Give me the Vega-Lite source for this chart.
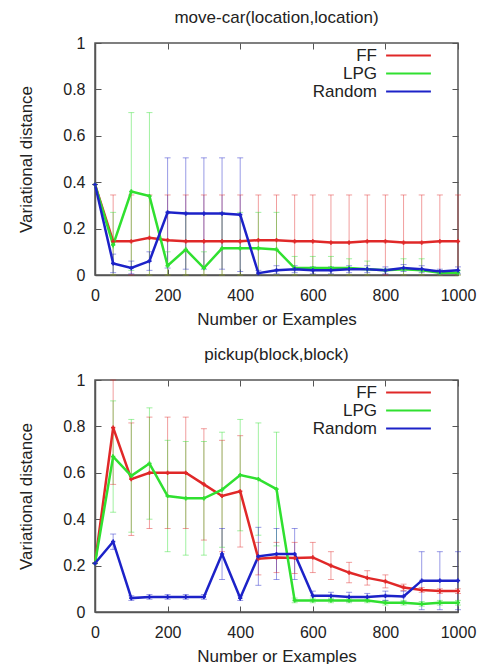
{
  "$schema": "https://vega.github.io/schema/vega-lite/v6.json",
  "padding": {"left": 17, "top": 8, "right": 5, "bottom": 5},
  "spacing": 17,
  "datasets": {
    "pts": [
      {"p":"A","s":"FF","x":0,"y":0.39,"lo":0.39,"hi":0.39},
      {"p":"A","s":"FF","x":50,"y":0.145,"lo":0,"hi":0.345},
      {"p":"A","s":"FF","x":100,"y":0.145,"lo":0,"hi":0.345},
      {"p":"A","s":"FF","x":150,"y":0.16,"lo":0,"hi":0.345},
      {"p":"A","s":"FF","x":200,"y":0.15,"lo":0,"hi":0.345},
      {"p":"A","s":"FF","x":250,"y":0.145,"lo":0,"hi":0.345},
      {"p":"A","s":"FF","x":300,"y":0.145,"lo":0,"hi":0.345},
      {"p":"A","s":"FF","x":350,"y":0.145,"lo":0,"hi":0.345},
      {"p":"A","s":"FF","x":400,"y":0.145,"lo":0,"hi":0.345},
      {"p":"A","s":"FF","x":450,"y":0.15,"lo":0,"hi":0.345},
      {"p":"A","s":"FF","x":500,"y":0.15,"lo":0,"hi":0.345},
      {"p":"A","s":"FF","x":550,"y":0.145,"lo":0,"hi":0.345},
      {"p":"A","s":"FF","x":600,"y":0.145,"lo":0,"hi":0.345},
      {"p":"A","s":"FF","x":650,"y":0.14,"lo":0,"hi":0.345},
      {"p":"A","s":"FF","x":700,"y":0.14,"lo":0,"hi":0.345},
      {"p":"A","s":"FF","x":750,"y":0.145,"lo":0,"hi":0.345},
      {"p":"A","s":"FF","x":800,"y":0.145,"lo":0,"hi":0.345},
      {"p":"A","s":"FF","x":850,"y":0.14,"lo":0,"hi":0.345},
      {"p":"A","s":"FF","x":900,"y":0.14,"lo":0,"hi":0.345},
      {"p":"A","s":"FF","x":950,"y":0.145,"lo":0,"hi":0.345},
      {"p":"A","s":"FF","x":1000,"y":0.145,"lo":0,"hi":0.345},
      {"p":"A","s":"LPG","x":0,"y":0.39,"lo":0.39,"hi":0.39},
      {"p":"A","s":"LPG","x":50,"y":0.13,"lo":0,"hi":0.27},
      {"p":"A","s":"LPG","x":100,"y":0.36,"lo":0.02,"hi":0.70},
      {"p":"A","s":"LPG","x":150,"y":0.34,"lo":0,"hi":0.70},
      {"p":"A","s":"LPG","x":200,"y":0.04,"lo":0,"hi":0.10},
      {"p":"A","s":"LPG","x":250,"y":0.11,"lo":0,"hi":0.27},
      {"p":"A","s":"LPG","x":300,"y":0.03,"lo":0,"hi":0.10},
      {"p":"A","s":"LPG","x":350,"y":0.115,"lo":0,"hi":0.27},
      {"p":"A","s":"LPG","x":400,"y":0.115,"lo":0,"hi":0.27},
      {"p":"A","s":"LPG","x":450,"y":0.115,"lo":0,"hi":0.27},
      {"p":"A","s":"LPG","x":500,"y":0.11,"lo":0,"hi":0.27},
      {"p":"A","s":"LPG","x":550,"y":0.03,"lo":0,"hi":0.08},
      {"p":"A","s":"LPG","x":600,"y":0.03,"lo":0,"hi":0.08},
      {"p":"A","s":"LPG","x":650,"y":0.03,"lo":0,"hi":0.08},
      {"p":"A","s":"LPG","x":700,"y":0.03,"lo":0,"hi":0.07},
      {"p":"A","s":"LPG","x":750,"y":0.025,"lo":0,"hi":0.06},
      {"p":"A","s":"LPG","x":800,"y":0.02,"lo":0.02,"hi":0.02},
      {"p":"A","s":"LPG","x":850,"y":0.025,"lo":0,"hi":0.07},
      {"p":"A","s":"LPG","x":900,"y":0.02,"lo":0,"hi":0.07},
      {"p":"A","s":"LPG","x":950,"y":0.01,"lo":0,"hi":0.02},
      {"p":"A","s":"LPG","x":1000,"y":0.01,"lo":0,"hi":0.02},
      {"p":"A","s":"Random","x":0,"y":0.39,"lo":0.39,"hi":0.39},
      {"p":"A","s":"Random","x":50,"y":0.05,"lo":0.01,"hi":0.09},
      {"p":"A","s":"Random","x":100,"y":0.03,"lo":0.005,"hi":0.06},
      {"p":"A","s":"Random","x":150,"y":0.06,"lo":0.02,"hi":0.10},
      {"p":"A","s":"Random","x":200,"y":0.27,"lo":0.03,"hi":0.505},
      {"p":"A","s":"Random","x":250,"y":0.265,"lo":0.025,"hi":0.505},
      {"p":"A","s":"Random","x":300,"y":0.265,"lo":0.025,"hi":0.505},
      {"p":"A","s":"Random","x":350,"y":0.265,"lo":0.025,"hi":0.505},
      {"p":"A","s":"Random","x":400,"y":0.26,"lo":0.015,"hi":0.505},
      {"p":"A","s":"Random","x":450,"y":0.008,"lo":0,"hi":0.02},
      {"p":"A","s":"Random","x":500,"y":0.02,"lo":0.005,"hi":0.04},
      {"p":"A","s":"Random","x":550,"y":0.025,"lo":0.01,"hi":0.04},
      {"p":"A","s":"Random","x":600,"y":0.02,"lo":0.005,"hi":0.035},
      {"p":"A","s":"Random","x":650,"y":0.02,"lo":0.005,"hi":0.035},
      {"p":"A","s":"Random","x":700,"y":0.025,"lo":0.01,"hi":0.04},
      {"p":"A","s":"Random","x":750,"y":0.025,"lo":0.01,"hi":0.04},
      {"p":"A","s":"Random","x":800,"y":0.02,"lo":0.005,"hi":0.035},
      {"p":"A","s":"Random","x":850,"y":0.03,"lo":0.015,"hi":0.045},
      {"p":"A","s":"Random","x":900,"y":0.025,"lo":0.01,"hi":0.04},
      {"p":"A","s":"Random","x":950,"y":0.015,"lo":0.005,"hi":0.025},
      {"p":"A","s":"Random","x":1000,"y":0.02,"lo":0.005,"hi":0.035},
      {"p":"B","s":"FF","x":0,"y":0.21,"lo":0.21,"hi":0.21},
      {"p":"B","s":"FF","x":50,"y":0.795,"lo":0.55,"hi":1.0},
      {"p":"B","s":"FF","x":100,"y":0.573,"lo":0.33,"hi":0.815},
      {"p":"B","s":"FF","x":150,"y":0.60,"lo":0.36,"hi":0.84},
      {"p":"B","s":"FF","x":200,"y":0.60,"lo":0.36,"hi":0.84},
      {"p":"B","s":"FF","x":250,"y":0.60,"lo":0.36,"hi":0.84},
      {"p":"B","s":"FF","x":300,"y":0.55,"lo":0.31,"hi":0.79},
      {"p":"B","s":"FF","x":350,"y":0.50,"lo":0.26,"hi":0.74},
      {"p":"B","s":"FF","x":400,"y":0.52,"lo":0.28,"hi":0.76},
      {"p":"B","s":"FF","x":450,"y":0.23,"lo":0.16,"hi":0.30},
      {"p":"B","s":"FF","x":500,"y":0.235,"lo":0.17,"hi":0.30},
      {"p":"B","s":"FF","x":550,"y":0.233,"lo":0.166,"hi":0.30},
      {"p":"B","s":"FF","x":600,"y":0.235,"lo":0.17,"hi":0.30},
      {"p":"B","s":"FF","x":650,"y":0.20,"lo":0.14,"hi":0.26},
      {"p":"B","s":"FF","x":700,"y":0.17,"lo":0.126,"hi":0.214},
      {"p":"B","s":"FF","x":750,"y":0.147,"lo":0.116,"hi":0.178},
      {"p":"B","s":"FF","x":800,"y":0.132,"lo":0.104,"hi":0.16},
      {"p":"B","s":"FF","x":850,"y":0.106,"lo":0.092,"hi":0.12},
      {"p":"B","s":"FF","x":900,"y":0.095,"lo":0.085,"hi":0.105},
      {"p":"B","s":"FF","x":950,"y":0.09,"lo":0.08,"hi":0.10},
      {"p":"B","s":"FF","x":1000,"y":0.09,"lo":0.08,"hi":0.10},
      {"p":"B","s":"LPG","x":0,"y":0.21,"lo":0.21,"hi":0.21},
      {"p":"B","s":"LPG","x":50,"y":0.67,"lo":0.43,"hi":0.91},
      {"p":"B","s":"LPG","x":100,"y":0.587,"lo":0.344,"hi":0.83},
      {"p":"B","s":"LPG","x":150,"y":0.64,"lo":0.40,"hi":0.88},
      {"p":"B","s":"LPG","x":200,"y":0.50,"lo":0.26,"hi":0.74},
      {"p":"B","s":"LPG","x":250,"y":0.49,"lo":0.245,"hi":0.735},
      {"p":"B","s":"LPG","x":300,"y":0.49,"lo":0.245,"hi":0.735},
      {"p":"B","s":"LPG","x":350,"y":0.527,"lo":0.279,"hi":0.775},
      {"p":"B","s":"LPG","x":400,"y":0.59,"lo":0.35,"hi":0.83},
      {"p":"B","s":"LPG","x":450,"y":0.573,"lo":0.331,"hi":0.815},
      {"p":"B","s":"LPG","x":500,"y":0.53,"lo":0.285,"hi":0.775},
      {"p":"B","s":"LPG","x":550,"y":0.05,"lo":0.04,"hi":0.06},
      {"p":"B","s":"LPG","x":600,"y":0.05,"lo":0.04,"hi":0.06},
      {"p":"B","s":"LPG","x":650,"y":0.05,"lo":0.04,"hi":0.06},
      {"p":"B","s":"LPG","x":700,"y":0.05,"lo":0.04,"hi":0.06},
      {"p":"B","s":"LPG","x":750,"y":0.05,"lo":0.04,"hi":0.06},
      {"p":"B","s":"LPG","x":800,"y":0.04,"lo":0.03,"hi":0.05},
      {"p":"B","s":"LPG","x":850,"y":0.04,"lo":0.03,"hi":0.05},
      {"p":"B","s":"LPG","x":900,"y":0.035,"lo":0.025,"hi":0.045},
      {"p":"B","s":"LPG","x":950,"y":0.04,"lo":0.03,"hi":0.05},
      {"p":"B","s":"LPG","x":1000,"y":0.04,"lo":0.03,"hi":0.05},
      {"p":"B","s":"Random","x":0,"y":0.21,"lo":0.21,"hi":0.21},
      {"p":"B","s":"Random","x":50,"y":0.303,"lo":0.27,"hi":0.336},
      {"p":"B","s":"Random","x":100,"y":0.06,"lo":0.05,"hi":0.07},
      {"p":"B","s":"Random","x":150,"y":0.065,"lo":0.055,"hi":0.075},
      {"p":"B","s":"Random","x":200,"y":0.065,"lo":0.055,"hi":0.075},
      {"p":"B","s":"Random","x":250,"y":0.065,"lo":0.055,"hi":0.075},
      {"p":"B","s":"Random","x":300,"y":0.065,"lo":0.055,"hi":0.075},
      {"p":"B","s":"Random","x":350,"y":0.25,"lo":0.14,"hi":0.36},
      {"p":"B","s":"Random","x":400,"y":0.06,"lo":0.05,"hi":0.07},
      {"p":"B","s":"Random","x":450,"y":0.24,"lo":0.115,"hi":0.365},
      {"p":"B","s":"Random","x":500,"y":0.25,"lo":0.14,"hi":0.36},
      {"p":"B","s":"Random","x":550,"y":0.25,"lo":0.14,"hi":0.36},
      {"p":"B","s":"Random","x":600,"y":0.07,"lo":0.05,"hi":0.09},
      {"p":"B","s":"Random","x":650,"y":0.07,"lo":0.055,"hi":0.085},
      {"p":"B","s":"Random","x":700,"y":0.065,"lo":0.045,"hi":0.085},
      {"p":"B","s":"Random","x":750,"y":0.065,"lo":0.05,"hi":0.08},
      {"p":"B","s":"Random","x":800,"y":0.07,"lo":0.05,"hi":0.09},
      {"p":"B","s":"Random","x":850,"y":0.067,"lo":0.044,"hi":0.09},
      {"p":"B","s":"Random","x":900,"y":0.135,"lo":0.01,"hi":0.26},
      {"p":"B","s":"Random","x":950,"y":0.135,"lo":0.01,"hi":0.26},
      {"p":"B","s":"Random","x":1000,"y":0.135,"lo":0.01,"hi":0.26}
    ]
  },
  "data": {"name": "pts"},
  "resolve": {"scale": {"color": "independent"}, "legend": {"color": "independent"}},
  "vconcat": [
    {
      "title": "move-car(location,location)",
      "width": 363, "height": 232,
      "transform": [{"filter": "datum.p == 'A'"}],
      "encoding": {
        "x": {"field": "x", "type": "quantitative", "scale": {"domain": [0, 1000], "nice": false}, "axis": {"values": [0, 200, 400, 600, 800, 1000], "format": "d", "title": "Number or Examples"}},
        "color": {"field": "s", "type": "nominal", "title": null, "scale": {"domain": ["FF", "LPG", "Random"], "range": ["#e02828", "#30e030", "#1c22c8"]}}
      },
      "resolve": {"axis": {"x": "independent", "y": "independent"}},
      "layer": [
        {
          "layer": [
            {"mark": {"type": "rule", "strokeWidth": 1, "opacity": 0.45},
             "encoding": {"y": {"field": "lo", "type": "quantitative", "scale": {"domain": [0, 1], "nice": false}, "axis": {"values": [0, 0.2, 0.4, 0.6, 0.8, 1], "format": "~g"}, "title": "Variational distance"}, "y2": {"field": "hi"}}},
            {"mark": {"type": "tick", "orient": "horizontal", "size": 6, "thickness": 1, "opacity": 0.45},
             "encoding": {"y": {"field": "hi", "type": "quantitative", "title": "Variational distance"}}},
            {"mark": {"type": "tick", "orient": "horizontal", "size": 6, "thickness": 1, "opacity": 0.45},
             "encoding": {"y": {"field": "lo", "type": "quantitative", "title": "Variational distance"}}},
            {"mark": {"type": "line", "strokeWidth": 2.5},
             "encoding": {"y": {"field": "y", "type": "quantitative", "title": "Variational distance"}}}
          ]
        },
        {"mark": {"type": "point", "shape": "cross", "filled": true, "size": 18, "opacity": 1},
         "encoding": {
           "x": {"field": "x", "type": "quantitative", "axis": {"orient": "top", "values": [0, 200, 400, 600, 800, 1000], "labels": false, "title": null, "domain": false}},
           "y": {"field": "y", "type": "quantitative", "axis": {"orient": "right", "values": [0, 0.2, 0.4, 0.6, 0.8, 1], "labels": false, "title": null, "domain": false}}}}
      ]
    },
    {
      "title": "pickup(block,block)",
      "width": 363, "height": 232,
      "transform": [{"filter": "datum.p == 'B'"}],
      "encoding": {
        "x": {"field": "x", "type": "quantitative", "scale": {"domain": [0, 1000], "nice": false}, "axis": {"values": [0, 200, 400, 600, 800, 1000], "format": "d", "title": "Number or Examples"}},
        "color": {"field": "s", "type": "nominal", "title": null, "scale": {"domain": ["FF", "LPG", "Random"], "range": ["#e02828", "#30e030", "#1c22c8"]}}
      },
      "resolve": {"axis": {"x": "independent", "y": "independent"}},
      "layer": [
        {
          "layer": [
            {"mark": {"type": "rule", "strokeWidth": 1, "opacity": 0.45, "clip": true},
             "encoding": {"y": {"field": "lo", "type": "quantitative", "scale": {"domain": [0, 1], "nice": false}, "axis": {"values": [0, 0.2, 0.4, 0.6, 0.8, 1], "format": "~g"}, "title": "Variational distance"}, "y2": {"field": "hi"}}},
            {"mark": {"type": "tick", "orient": "horizontal", "size": 6, "thickness": 1, "opacity": 0.45},
             "encoding": {"y": {"field": "hi", "type": "quantitative", "title": "Variational distance"}}},
            {"mark": {"type": "tick", "orient": "horizontal", "size": 6, "thickness": 1, "opacity": 0.45},
             "encoding": {"y": {"field": "lo", "type": "quantitative", "title": "Variational distance"}}},
            {"mark": {"type": "line", "strokeWidth": 2.5},
             "encoding": {"y": {"field": "y", "type": "quantitative", "title": "Variational distance"}}}
          ]
        },
        {"mark": {"type": "point", "shape": "cross", "filled": true, "size": 18, "opacity": 1},
         "encoding": {
           "x": {"field": "x", "type": "quantitative", "axis": {"orient": "top", "values": [0, 200, 400, 600, 800, 1000], "labels": false, "title": null, "domain": false}},
           "y": {"field": "y", "type": "quantitative", "axis": {"orient": "right", "values": [0, 0.2, 0.4, 0.6, 0.8, 1], "labels": false, "title": null, "domain": false}}}}
      ]
    }
  ],
  "config": {
    "font": "Liberation Sans",
    "view": {"stroke": "#555", "strokeWidth": 1.5},
    "title": {"fontSize": 17, "fontWeight": "normal", "color": "#222", "offset": 8},
    "axis": {"grid": false, "labelFontSize": 16, "titleFontSize": 17, "titleFontWeight": "normal", "labelColor": "#222", "titleColor": "#222", "domainColor": "#555", "domainWidth": 1.5, "tickColor": "#555", "tickSize": -6, "labelFlush": false, "labelOverlap": false},
    "axisX": {"titlePadding": 8, "labelPadding": 18},
    "axisY": {"titlePadding": 27, "labelPadding": 16},
    "legend": {"orient": "none", "legendX": 305, "legendY": 4, "padding": 0, "symbolType": "M-3.2,0H3.2", "symbolSize": 196, "symbolStrokeWidth": 2, "symbolOpacity": 1, "labelFontSize": 17, "labelColor": "#222", "labelAlign": "right", "labelOffset": -40, "rowPadding": 0}
  }
}
